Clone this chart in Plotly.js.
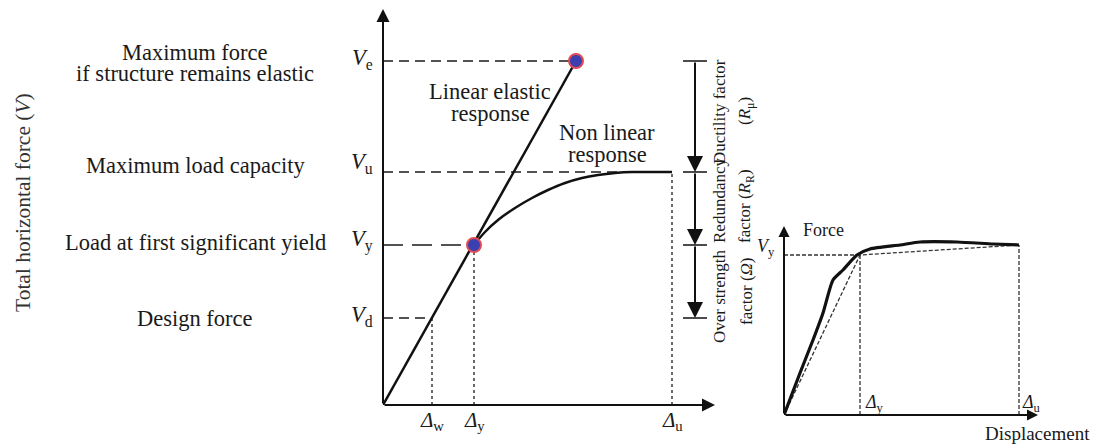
<!DOCTYPE html>
<html>
<head>
<meta charset="utf-8">
<script src="https://cdn.plot.ly/plotly-3.0.1.min.js"></script>
<style>html,body{margin:0;padding:0;background:#fff;}#chart{width:1094px;height:445px;}</style>
</head>
<body>
<div id="chart"></div>
<script>
// ---------- data (main idealised force–displacement diagram) ----------
const levelKeys   = ['d', 'y', 'u', 'e'];
const levelForces = [87, 160, 233, 344];            // V_d, V_y, V_u, V_e
const levelLabels = ['Design force', 'Load at first significant yield', 'Maximum load capacity', 'Maximum force|if structure remains elastic'];
const dispKeys    = ['w', 'y', 'u'];
const dispValues  = [49, 91, 289];                  // Δ_w, Δ_y, Δ_u
const elasticX    = [0, 193];
const elasticY    = [0, 344];
const nonlinX     = [91, 102, 115, 132, 149, 165, 182, 199, 215, 232, 249, 269, 289];
const nonlinY     = [160, 173, 185, 197, 207, 215, 222, 227, 230, 232, 233, 233, 233];
const factorNames = ['Ductility factor|(<i>R</i><sub>μ</sub>)', 'Redundancy|factor (<i>R</i><sub>R</sub>)', 'Over strength|factor (<i>Ω</i>)'];

// ---------- data (inset pushover curve) ----------
const insetCurveX = [0, 16, 29, 39, 49, 59, 73, 86, 116, 136, 173, 209, 235];
const insetCurveY = [0, 42, 75, 102, 135, 145, 160, 166, 170, 173, 173, 171, 170];
const insetBiX    = [0, 76, 235];
const insetBiY    = [0, 160, 170];
const insetDy = 76, insetDu = 235, insetVy = 160;

// ---------- helpers ----------
const W = 1094, H = 445;
const px = v => v / W, py = v => 1 - v / H;
const FONT = "'Liberation Serif', 'Times New Roman', 'DejaVu Serif', serif";
const INK = '#1a1a1a';

const Vd = levelForces[0], Vy = levelForces[1], Vu = levelForces[2], Ve = levelForces[3];
const Dw = dispValues[0], Dy = dispValues[1], Du = dispValues[2];

const traces = [];
const line = (x, y, opts, axes) => Object.assign({type: 'scatter', mode: 'lines', x: x, y: y, hoverinfo: 'skip',
  line: Object.assign({color: INK, width: 1.5}, opts)}, axes || {});

// dashed force levels
traces.push(line([0, elasticX[1]], [Ve, Ve], {dash: '10px,6px'}));
traces.push(line([0, Du], [Vu, Vu], {dash: '10px,6px'}));
traces.push(line([0, Dy], [Vy, Vy], {dash: '20px,9px'}));
traces.push(line([0, Dw], [Vd, Vd], {dash: '10px,6px'}));
// dotted displacement verticals
traces.push(line([Dw, Dw], [0, Vd], {dash: 'dot', width: 1.3}));
traces.push(line([Dy, Dy], [0, Vy], {dash: 'dot', width: 1.3}));
traces.push(line([Du, Du], [0, Vu], {dash: 'dot', width: 1.3}));
// responses
traces.push(line(elasticX, elasticY, {width: 2.5, color: '#111'}));
traces.push(line(nonlinX, nonlinY, {width: 2.5, color: '#111', shape: 'spline'}));
// dots
traces.push({type: 'scatter', mode: 'markers', x: [Dy, elasticX[1]], y: [Vy, Ve], hoverinfo: 'skip',
  marker: {size: 14, color: '#3a40b0', line: {color: '#e04a55', width: 2}}});

// inset
const ax2 = {xaxis: 'x2', yaxis: 'y2'};
traces.push(line([0, insetDy], [insetVy, insetVy], {dash: '4px,2px', width: 1.3, color: '#333'}, ax2));
traces.push(line(insetBiX, insetBiY, {dash: '4px,2px', width: 1.3, color: '#333'}, ax2));
traces.push(line([insetDy, insetDy], [0, insetVy], {dash: '4px,2px', width: 1.3, color: '#333'}, ax2));
traces.push(line([insetDu, insetDu], [0, insetBiY[2]], {dash: '4px,2px', width: 1.3, color: '#333'}, ax2));
traces.push(line(insetCurveX, insetCurveY, {width: 3.2, color: '#111', shape: 'spline', smoothing: 0.6}, ax2));

// ---------- annotations ----------
const ann = [];
const txt = (o) => Object.assign({showarrow: false, xanchor: 'center', yanchor: 'middle', font: {family: FONT, size: 22.5, color: INK}}, o);
const arrow = (x, y, ax, ay, xr, yr, w, s) => ({x: x, y: y, ax: ax, ay: ay, xref: xr, yref: yr, axref: xr, ayref: yr,
  text: '', showarrow: true, arrowhead: 2, arrowwidth: w, arrowsize: s, arrowcolor: '#111', standoff: 0, startstandoff: 0});

// main axes
ann.push(arrow(332, 0, 0, 0, 'x', 'y', 2, 1.3));
ann.push(arrow(0, 396, 0, 0, 'x', 'y', 2, 1.3));
// dimension arrows for the factors
for (let i = 3; i >= 1; i--) ann.push(arrow(312, levelForces[i - 1], 312, levelForces[i], 'x', 'y', 2, 1.6));

// left labels and V symbols
const labelShift = [0, 3, 7, 0];
levelLabels.forEach((t, i) => {
  const parts = t.split('|');
  if (parts.length === 1) {
    ann.push(txt({text: t, xref: 'paper', yref: 'y', x: px(195), y: levelForces[i], yshift: labelShift[i]}));
  } else {
    ann.push(txt({text: parts[0], xref: 'paper', yref: 'y', x: px(195), y: levelForces[i], yshift: 9}));
    ann.push(txt({text: parts[1], xref: 'paper', yref: 'y', x: px(195), y: levelForces[i], yshift: -12}));
  }
  ann.push(txt({text: '<i>V</i><sub>' + levelKeys[i] + '</sub>', xref: 'paper', yref: 'y', x: px(375), xanchor: 'right',
    y: levelForces[i], yshift: labelShift[i] + 2}));
});
// displacement labels
dispValues.forEach((d, i) => {
  ann.push(txt({text: '<i>Δ</i><sub>' + dispKeys[i] + '</sub>', xref: 'x', yref: 'paper', x: d, y: py(421), font: {family: FONT, size: 21, color: INK}}));
});
// response labels
ann.push(txt({text: 'Linear elastic', xref: 'paper', yref: 'paper', x: px(490), y: py(91)}));
ann.push(txt({text: 'response', xref: 'paper', yref: 'paper', x: px(490), y: py(114)}));
ann.push(txt({text: 'Non linear', xref: 'paper', yref: 'paper', x: px(607), y: py(132)}));
ann.push(txt({text: 'response', xref: 'paper', yref: 'paper', x: px(607), y: py(155)}));
// y title
ann.push(txt({text: 'Total horizontal force (<i>V</i>)', xref: 'paper', yref: 'paper', x: px(23), y: py(203), textangle: -90, font: {family: FONT, size: 21.5, color: '#333'}}));
// factor labels (rotated)
const factorCenters1 = [112, 201, 296];
const factorCenters2 = [111, 206, 291];
factorNames.forEach((t, i) => {
  const parts = t.split('|');
  ann.push(txt({text: parts[0], xref: 'paper', yref: 'paper', x: px(719), y: py(factorCenters1[i]), textangle: -90, font: {family: FONT, size: 17, color: INK}}));
  ann.push(txt({text: parts[1], xref: 'paper', yref: 'paper', x: px(746), y: py(factorCenters2[i]), textangle: -90, font: {family: FONT, size: 17, color: INK}}));
});

// inset axes and labels
ann.push(arrow(254, 0, 0, 0, 'x2', 'y2', 2, 1.1));
ann.push(arrow(0, 189, 0, 0, 'x2', 'y2', 2, 1.1));
ann.push(txt({text: 'Force', xref: 'paper', yref: 'paper', x: px(801), xanchor: 'left', y: py(230), font: {family: FONT, size: 18, color: INK}}));
ann.push(txt({text: '<i>V</i><sub>y</sub>', xref: 'paper', yref: 'y2', x: px(777), xanchor: 'right', y: insetVy, yshift: 8, font: {family: FONT, size: 18, color: INK}}));
ann.push(txt({text: '<i>Δ</i><sub>y</sub>', xref: 'x2', yref: 'paper', x: insetDy, xanchor: 'left', xshift: 3, y: py(403), font: {family: FONT, size: 18, color: INK}}));
ann.push(txt({text: '<i>Δ</i><sub>u</sub>', xref: 'x2', yref: 'paper', x: insetDu, xanchor: 'left', xshift: 1, y: py(403), font: {family: FONT, size: 18, color: INK}}));
ann.push(txt({text: 'Displacement', xref: 'paper', yref: 'paper', x: px(1037), y: py(433), font: {family: FONT, size: 19, color: INK}}));

const hidden = {visible: false, fixedrange: true};
const layout = {
  width: W, height: H, margin: {l: 0, r: 0, t: 0, b: 0},
  paper_bgcolor: '#fff', plot_bgcolor: 'rgba(0,0,0,0)', showlegend: false,
  font: {family: FONT},
  xaxis: Object.assign({domain: [px(383), px(723)], range: [0, 340]}, hidden),
  yaxis: Object.assign({domain: [py(405), py(5)], range: [0, 400]}, hidden),
  xaxis2: Object.assign({domain: [px(784), px(1044)], range: [0, 260], anchor: 'y2'}, hidden),
  yaxis2: Object.assign({domain: [py(415), py(225)], range: [0, 190], anchor: 'x2'}, hidden),
  shapes: levelForces.map(f => ({type: 'line', xref: 'x', yref: 'y', x0: 300, x1: 324, y0: f, y1: f, line: {color: '#111', width: 1.5}})),
  annotations: ann
};
Plotly.newPlot('chart', traces, layout, {staticPlot: true, displayModeBar: false});
</script>
</body>
</html>
